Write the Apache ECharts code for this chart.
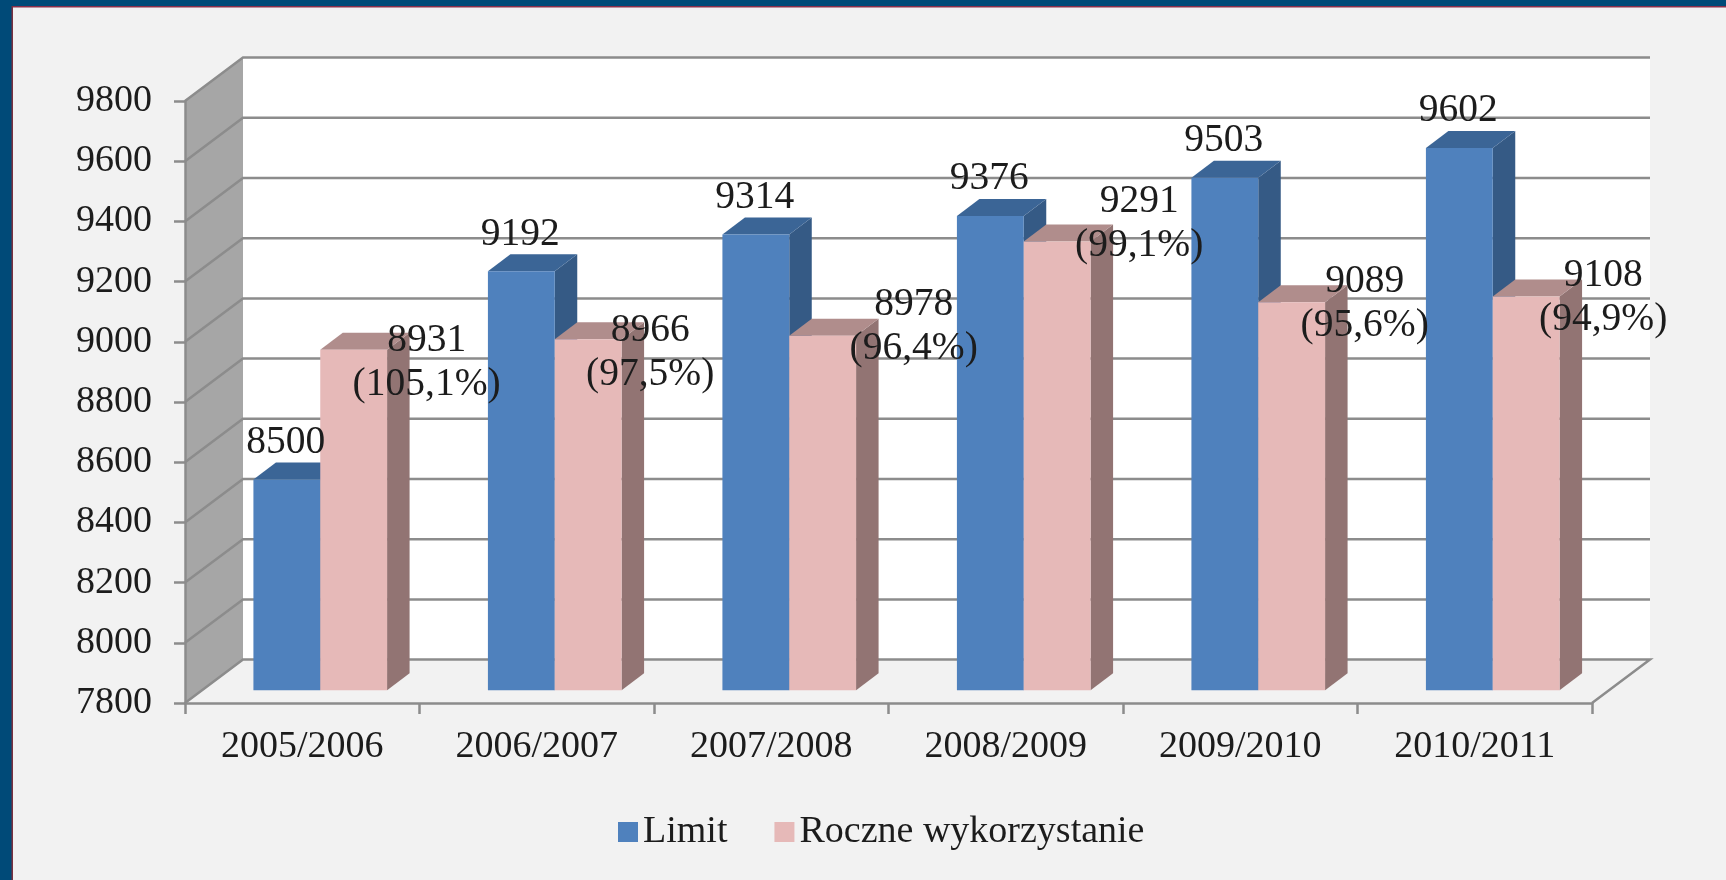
<!DOCTYPE html>
<html>
<head>
<meta charset="utf-8">
<title>Limit i roczne wykorzystanie</title>
<style>
  html, body { margin: 0; padding: 0; background: #f2f2f2; }
  #chart { width: 1726px; height: 880px; }
</style>
<script src="https://cdn.jsdelivr.net/npm/echarts@6/dist/echarts.min.js"></script>
</head>
<body>
<div id="chart"></div>
<script>
const categories = ["2005/2006", "2006/2007", "2007/2008", "2008/2009", "2009/2010", "2010/2011"];
const limitValues = [8500, 9192, 9314, 9376, 9503, 9602];
const usedValues = [8931, 8966, 8978, 9291, 9089, 9108];
const usedShares = ["105,1%", "97,5%", "96,4%", "99,1%", "95,6%", "94,9%"];
const yTicks = [7800, 8000, 8200, 8400, 8600, 8800, 9000, 9200, 9400, 9600, 9800];

// hand placed labels of the pink bars, as in the original slide
const usedLabelNudge = [[73, 57], [62, 57], [91, 35], [82, 26], [73, 45], [77, 45]];

const yMin = 7800;
const yMax = 9800;
const fontFamily = '"Liberation Serif", serif';
const textColor = "#1c1c1c";
const lineColor = "#8c8c8c";
const dataFontSize = 39.5;

// depth of the fake 3d box and of the bars
const wallDx = 58;
const wallDy = 43.4;
const barDx = 22.5;
const barDy = 17;
const barCategoryGap = 0.43;

function renderWalls(params, api) {
  const band = api.size([1, 0])[0];
  const top = api.coord([0, yMax]);
  const bottom = api.coord([0, yMin]);
  const x0 = top[0] - band / 2;
  const x1 = x0 + band * categories.length;
  return {
    type: "group",
    children: [
      {
        type: "polygon",
        shape: { points: [[x0 + wallDx, top[1] - wallDy], [x1 + wallDx, top[1] - wallDy], [x1 + wallDx, bottom[1] - wallDy], [x0 + wallDx, bottom[1] - wallDy]] },
        style: { fill: "#ffffff" },
      },
      {
        type: "polygon",
        shape: { points: [[x0, top[1]], [x0 + wallDx, top[1] - wallDy], [x0 + wallDx, bottom[1] - wallDy], [x0, bottom[1]]] },
        style: { fill: "#a6a6a6" },
      },
    ],
  };
}

function renderGridLine(params, api) {
  const band = api.size([1, 0])[0];
  const p = api.coord([0, api.value(1)]);
  const x0 = p[0] - band / 2;
  const x1 = x0 + band * categories.length;
  const points = [[x0, p[1]], [x0 + wallDx, p[1] - wallDy], [x1 + wallDx, p[1] - wallDy]];
  // the floor closes on the right side
  if (api.value(1) === yMin) {
    points.push([x1, p[1]]);
  }
  return {
    type: "polyline",
    shape: { points: points },
    style: { stroke: lineColor, lineWidth: 2.5, fill: null },
  };
}

// top and side faces of a bar, side = -1 left bar, side = 1 right bar
function makeBarFaces(side, topColor, sideColor) {
  return function (params, api) {
    const top = api.coord([api.value(0), api.value(1)]);
    const base = api.coord([api.value(0), yMin]);
    const barWidth = (api.size([1, 0])[0] * (1 - barCategoryGap)) / 2;
    const left = side < 0 ? top[0] - barWidth : top[0];
    const right = left + barWidth;
    return {
      type: "group",
      children: [
        {
          type: "polygon",
          shape: { points: [[right, top[1]], [right + barDx, top[1] - barDy], [right + barDx, base[1] - barDy], [right, base[1]]] },
          style: { fill: sideColor },
        },
        {
          type: "polygon",
          shape: { points: [[left, top[1]], [left + barDx, top[1] - barDy], [right + barDx, top[1] - barDy], [right, top[1]]] },
          style: { fill: topColor },
        },
      ],
    };
  };
}

// the blue labels sit above the pink bars, so they get their own series
function renderLimitLabel(params, api) {
  const top = api.coord([api.value(0), api.value(1)]);
  const barWidth = (api.size([1, 0])[0] * (1 - barCategoryGap)) / 2;
  return {
    type: "text",
    style: {
      text: String(api.value(1)),
      x: top[0] - barWidth / 2 - 1,
      y: top[1] - 37,
      align: "center",
      verticalAlign: "middle",
      fontFamily: fontFamily,
      fontSize: dataFontSize,
      fill: textColor,
    },
  };
}

const axisFont = { fontFamily: fontFamily, color: textColor };
const chart = echarts.init(document.getElementById("chart"));

chart.setOption({
  animation: false,
  backgroundColor: "#f2f2f2",
  textStyle: { fontFamily: fontFamily },
  graphic: [
    { type: "rect", left: 0, top: 0, shape: { width: 1726, height: 7 }, style: { fill: "#004a78" } },
    { type: "rect", left: 0, top: 0, shape: { width: 12, height: 880 }, style: { fill: "#004a78" } },
    { type: "rect", left: 12, top: 6, shape: { width: 1714, height: 1.5 }, style: { fill: "#8a2f4a" } },
    { type: "rect", left: 11.5, top: 6, shape: { width: 1.5, height: 874 }, style: { fill: "#7a3040" } },
  ],
  legend: {
    data: ["Limit", "Roczne wykorzystanie"],
    left: 613,
    top: 808,
    icon: "rect",
    itemWidth: 20,
    itemHeight: 20,
    itemGap: 47,
    textStyle: { fontFamily: fontFamily, fontSize: 38, color: textColor },
  },
  // grid 0 is the front of the box, grid 1 is the plane the bars stand on
  grid: [
    { left: 185, top: 101, width: 1407, height: 602 },
    { left: 203, top: 88.3, width: 1407, height: 602 },
  ],
  xAxis: [
    {
      type: "category",
      gridIndex: 0,
      data: categories,
      z: 10,
      axisLine: { lineStyle: { color: lineColor, width: 2.5 } },
      axisTick: { show: true, alignWithLabel: false, length: 11, lineStyle: { color: lineColor, width: 2.5 } },
      axisLabel: Object.assign({ margin: 25, interval: 0, fontSize: 38 }, axisFont),
    },
    { type: "category", gridIndex: 1, data: categories, show: false },
  ],
  yAxis: [
    {
      type: "value",
      gridIndex: 0,
      min: yMin,
      max: yMax,
      interval: 200,
      z: 10,
      axisLine: { show: true, lineStyle: { color: lineColor, width: 2.5 } },
      axisTick: { show: true, length: 11, lineStyle: { color: lineColor, width: 2.5 } },
      axisLabel: Object.assign({ margin: 33, fontSize: 38, padding: [2, 0, 0, 0], formatter: (v) => String(v) }, axisFont),
      splitLine: { show: false },
    },
    { type: "value", gridIndex: 1, min: yMin, max: yMax, interval: 200, show: false, splitLine: { show: false } },
  ],
  series: [
    {
      type: "custom",
      name: "walls",
      xAxisIndex: 0,
      yAxisIndex: 0,
      z: 1,
      silent: true,
      renderItem: renderWalls,
      data: [[0, yMax]],
    },
    {
      type: "custom",
      name: "gridlines",
      xAxisIndex: 0,
      yAxisIndex: 0,
      z: 2,
      silent: true,
      renderItem: renderGridLine,
      data: yTicks.map((v) => [0, v]),
    },
    {
      type: "custom",
      name: "limit faces",
      xAxisIndex: 1,
      yAxisIndex: 1,
      z: 3,
      silent: true,
      renderItem: makeBarFaces(-1, "#3b6596", "#355a85"),
      data: limitValues.map((v, i) => [i, v]),
    },
    {
      type: "bar",
      name: "Limit",
      xAxisIndex: 1,
      yAxisIndex: 1,
      z: 4,
      barGap: 0,
      barCategoryGap: barCategoryGap * 100 + "%",
      itemStyle: { color: "#4f81bd" },
      data: limitValues,
    },
    {
      type: "custom",
      name: "used faces",
      xAxisIndex: 1,
      yAxisIndex: 1,
      z: 5,
      silent: true,
      renderItem: makeBarFaces(1, "#b08d8c", "#927473"),
      data: usedValues.map((v, i) => [i, v]),
    },
    {
      type: "bar",
      name: "Roczne wykorzystanie",
      xAxisIndex: 1,
      yAxisIndex: 1,
      z: 6,
      barGap: 0,
      barCategoryGap: barCategoryGap * 100 + "%",
      itemStyle: { color: "#e6b9b8" },
      data: usedValues.map((v, i) => ({
        value: v,
        label: {
          show: true,
          position: "top",
          distance: 0,
          offset: usedLabelNudge[i],
          lineHeight: 44,
          fontFamily: fontFamily,
          fontSize: dataFontSize,
          color: textColor,
          formatter: v + "\n(" + usedShares[i] + ")",
        },
      })),
    },
    {
      type: "custom",
      name: "limit labels",
      xAxisIndex: 1,
      yAxisIndex: 1,
      z: 7,
      silent: true,
      renderItem: renderLimitLabel,
      data: limitValues.map((v, i) => [i, v]),
    },
  ],
});
</script>
</body>
</html>
